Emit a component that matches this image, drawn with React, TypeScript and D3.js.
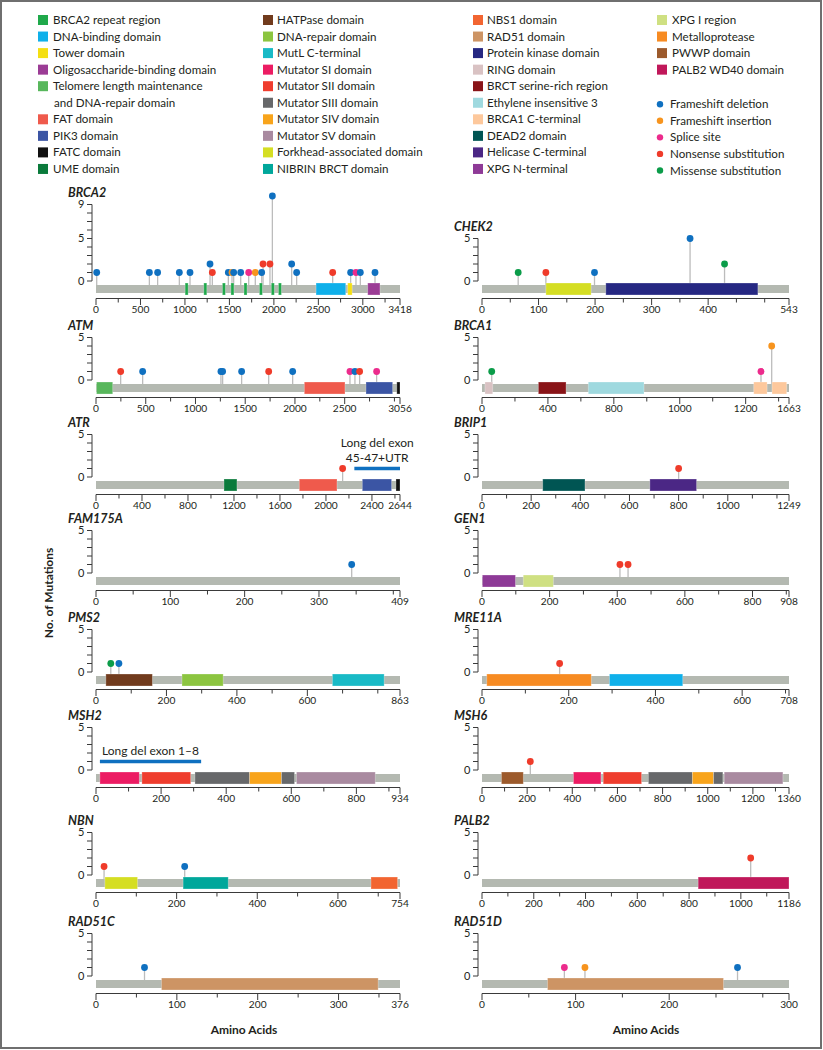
import React from "react";
import * as d3 from "d3";

// ---------------- data ----------------
const leftGenes = ["BRCA2", "ATM", "ATR", "FAM175A", "PMS2", "MSH2", "NBN", "RAD51C"];
const rightGenes = ["CHEK2", "BRCA1", "BRIP1", "GEN1", "MRE11A", "MSH6", "PALB2", "RAD51D"];

const proteinLength: Record<string, number> = {
  BRCA2: 3418, ATM: 3056, ATR: 2644, FAM175A: 409, PMS2: 863, MSH2: 934, NBN: 754, RAD51C: 376,
  CHEK2: 543, BRCA1: 1863, BRIP1: 1249, GEN1: 908, MRE11A: 708, MSH6: 1360, PALB2: 1186, RAD51D: 328,
};

const countAxisMax: Record<string, number> = { BRCA2: 9 };
const countAxisLabels: Record<string, number[]> = { BRCA2: [0, 5, 9] };
const defaultCountLabels = [0, 5];

const xMinorStep: Record<string, number> = {
  BRCA2: 250, ATM: 250, ATR: 200, FAM175A: 50, PMS2: 100, MSH2: 100, NBN: 100, RAD51C: 50,
  CHEK2: 50, BRCA1: 200, BRIP1: 100, GEN1: 100, MRE11A: 100, MSH6: 100, PALB2: 100, RAD51D: 50,
};

const xTickLabels: Record<string, [number, string][]> = {
  BRCA2: [[0, "0"], [500, "500"], [1000, "1000"], [1500, "1500"], [2000, "2000"], [2500, "2500"], [3000, "3000"], [3418, "3418"]],
  ATM: [[0, "0"], [500, "500"], [1000, "1000"], [1500, "1500"], [2000, "2000"], [2500, "2500"], [3056, "3056"]],
  ATR: [[0, "0"], [400, "400"], [800, "800"], [1200, "1200"], [1600, "1600"], [2000, "2000"], [2400, "2400"], [2644, "2644"]],
  FAM175A: [[0, "0"], [100, "100"], [200, "200"], [300, "300"], [409, "409"]],
  PMS2: [[0, "0"], [200, "200"], [400, "400"], [600, "600"], [863, "863"]],
  MSH2: [[0, "0"], [200, "200"], [400, "400"], [600, "600"], [800, "800"], [934, "934"]],
  NBN: [[0, "0"], [200, "200"], [400, "400"], [600, "600"], [754, "754"]],
  RAD51C: [[0, "0"], [100, "100"], [200, "200"], [300, "300"], [376, "376"]],
  CHEK2: [[0, "0"], [100, "100"], [200, "200"], [300, "300"], [400, "400"], [543, "543"]],
  BRCA1: [[0, "0"], [400, "400"], [800, "800"], [1200, "1000"], [1600, "1200"], [1863, "1663"]],
  BRIP1: [[0, "0"], [200, "200"], [400, "400"], [600, "600"], [800, "800"], [1000, "1000"], [1249, "1249"]],
  GEN1: [[0, "0"], [200, "200"], [400, "400"], [600, "600"], [800, "800"], [908, "908"]],
  MRE11A: [[0, "0"], [200, "200"], [400, "400"], [600, "600"], [708, "708"]],
  MSH6: [[0, "0"], [200, "200"], [400, "400"], [600, "600"], [800, "800"], [1000, "1000"], [1200, "1200"], [1360, "1360"]],
  PALB2: [[0, "0"], [200, "200"], [400, "400"], [600, "600"], [800, "800"], [1000, "1000"], [1186, "1186"]],
  RAD51D: [[0, "0"], [100, "100"], [200, "200"], [328, "300"]],
};

// [gene, domain, start, end]
const domains: [string, string, number, number][] = [
  ["BRCA2", "BRCA2 repeat region", 1002, 1036],
  ["BRCA2", "BRCA2 repeat region", 1212, 1246],
  ["BRCA2", "BRCA2 repeat region", 1421, 1455],
  ["BRCA2", "BRCA2 repeat region", 1517, 1551],
  ["BRCA2", "BRCA2 repeat region", 1664, 1698],
  ["BRCA2", "BRCA2 repeat region", 1837, 1871],
  ["BRCA2", "BRCA2 repeat region", 1971, 2005],
  ["BRCA2", "BRCA2 repeat region", 2051, 2085],
  ["BRCA2", "DNA-binding domain", 2474, 2808],
  ["BRCA2", "Tower domain", 2830, 2880],
  ["BRCA2", "Oligosaccharide-binding domain", 3055, 3193],
  ["CHEK2", "Forkhead-associated domain", 113, 193],
  ["CHEK2", "Protein kinase domain", 219, 488],
  ["ATM", "Telomere length maintenance and DNA-repair domain", 5, 168],
  ["ATM", "FAT domain", 2094, 2503],
  ["ATM", "PIK3 domain", 2714, 2982],
  ["ATM", "FATC domain", 3024, 3056],
  ["ATR", "UME domain", 1113, 1226],
  ["ATR", "FAT domain", 1768, 2096],
  ["ATR", "PIK3 domain", 2316, 2571],
  ["ATR", "FATC domain", 2609, 2644],
  ["BRCA1", "RING domain", 18, 65],
  ["BRCA1", "BRCT serine-rich region", 342, 510],
  ["BRCA1", "Ethylene insensitive 3", 645, 983],
  ["BRCA1", "BRCA1 C-terminal", 1649, 1730],
  ["BRCA1", "BRCA1 C-terminal", 1760, 1849],
  ["BRIP1", "DEAD2 domain", 247, 419],
  ["BRIP1", "Helicase C-terminal", 683, 873],
  ["PMS2", "HATPase domain", 28, 160],
  ["PMS2", "DNA-repair domain", 244, 361],
  ["PMS2", "MutL C-terminal", 671, 818],
  ["GEN1", "XPG N-terminal", 1, 99],
  ["GEN1", "XPG I region", 122, 211],
  ["MRE11A", "Metalloprotease", 11, 252],
  ["MRE11A", "DNA-binding domain", 294, 463],
  ["MSH2", "Mutator SI domain", 12, 133],
  ["MSH2", "Mutator SII domain", 141, 291],
  ["MSH2", "Mutator SIII domain", 304, 472],
  ["MSH2", "Mutator SIV domain", 472, 570],
  ["MSH2", "Mutator SIII domain", 570, 610],
  ["MSH2", "Mutator SV domain", 616, 858],
  ["MSH6", "PWWP domain", 86, 183],
  ["MSH6", "Mutator SI domain", 405, 527],
  ["MSH6", "Mutator SII domain", 537, 707],
  ["MSH6", "Mutator SIII domain", 737, 932],
  ["MSH6", "Mutator SIV domain", 932, 1026],
  ["MSH6", "Mutator SIII domain", 1026, 1067],
  ["MSH6", "Mutator SV domain", 1073, 1333],
  ["NBN", "Forkhead-associated domain", 22, 103],
  ["NBN", "NIBRIN BRCT domain", 216, 328],
  ["NBN", "NBS1 domain", 682, 748],
  ["PALB2", "PALB2 WD40 domain", 835, 1186],
  ["RAD51C", "RAD51 domain", 81, 349],
  ["RAD51D", "RAD51 domain", 70, 258],
];

// [gene, mutation type, amino-acid position, count]
const mutations: [string, string, number, number][] = [
  ["BRCA2", "fsdel", 8, 1],
  ["BRCA2", "fsdel", 600, 1],
  ["BRCA2", "fsdel", 693, 1],
  ["BRCA2", "fsdel", 937, 1],
  ["BRCA2", "fsdel", 1057, 1],
  ["BRCA2", "fsdel", 1282, 2],
  ["BRCA2", "nonsense", 1308, 1],
  ["BRCA2", "fsdel", 1488, 1],
  ["BRCA2", "fsins", 1529, 1],
  ["BRCA2", "fsdel", 1548, 1],
  ["BRCA2", "fsdel", 1627, 1],
  ["BRCA2", "splice", 1717, 1],
  ["BRCA2", "fsins", 1791, 1],
  ["BRCA2", "fsdel", 1863, 1],
  ["BRCA2", "nonsense", 1878, 2],
  ["BRCA2", "nonsense", 1956, 2],
  ["BRCA2", "fsdel", 1983, 10],
  ["BRCA2", "fsdel", 2200, 2],
  ["BRCA2", "fsdel", 2256, 1],
  ["BRCA2", "nonsense", 2661, 1],
  ["BRCA2", "fsdel", 2863, 1],
  ["BRCA2", "splice", 2923, 1],
  ["BRCA2", "fsdel", 2972, 1],
  ["BRCA2", "fsdel", 3137, 1],
  ["CHEK2", "missense", 64, 1],
  ["CHEK2", "nonsense", 113, 1],
  ["CHEK2", "fsdel", 199, 1],
  ["CHEK2", "fsdel", 368, 5],
  ["CHEK2", "missense", 429, 2],
  ["ATM", "nonsense", 248, 1],
  ["ATM", "fsdel", 469, 1],
  ["ATM", "fsdel", 1256, 1],
  ["ATM", "fsdel", 1273, 1],
  ["ATM", "fsdel", 1464, 1],
  ["ATM", "nonsense", 1736, 1],
  ["ATM", "fsdel", 1977, 1],
  ["ATM", "splice", 2553, 1],
  ["ATM", "fsdel", 2603, 1],
  ["ATM", "nonsense", 2650, 1],
  ["ATM", "splice", 2821, 1],
  ["ATR", "nonsense", 2145, 1],
  ["BRCA1", "missense", 59, 1],
  ["BRCA1", "splice", 1693, 1],
  ["BRCA1", "fsins", 1758, 4],
  ["BRIP1", "nonsense", 800, 1],
  ["FAM175A", "fsdel", 344, 1],
  ["PMS2", "missense", 42, 1],
  ["PMS2", "fsdel", 65, 1],
  ["GEN1", "nonsense", 408, 1],
  ["GEN1", "nonsense", 432, 1],
  ["MRE11A", "nonsense", 179, 1],
  ["MSH6", "nonsense", 214, 1],
  ["NBN", "nonsense", 20, 1],
  ["NBN", "fsdel", 220, 1],
  ["PALB2", "nonsense", 1038, 2],
  ["RAD51C", "fsdel", 60, 1],
  ["RAD51D", "splice", 88, 1],
  ["RAD51D", "fsins", 110, 1],
  ["RAD51D", "fsdel", 273, 1],
];

// [gene, start, end, level, label lines]
const longDeletions: [string, number, number, number, string[]][] = [
  ["ATR", 2247, 2644, 1, ["Long del exon", "45-47+UTR"]],
  ["MSH2", 12, 323, 1, ["Long del exon 1\u20138"]],
];

const legendCol1 = ["BRCA2 repeat region", "DNA-binding domain", "Tower domain", "Oligosaccharide-binding domain",
  "Telomere length maintenance and DNA-repair domain", "FAT domain", "PIK3 domain", "FATC domain", "UME domain"];
const legendCol2 = ["HATPase domain", "DNA-repair domain", "MutL C-terminal", "Mutator SI domain", "Mutator SII domain",
  "Mutator SIII domain", "Mutator SIV domain", "Mutator SV domain", "Forkhead-associated domain", "NIBRIN BRCT domain"];
const legendCol3 = ["NBS1 domain", "RAD51 domain", "Protein kinase domain", "RING domain", "BRCT serine-rich region",
  "Ethylene insensitive 3", "BRCA1 C-terminal", "DEAD2 domain", "Helicase C-terminal", "XPG N-terminal"];
const legendCol4 = ["XPG I region", "Metalloprotease", "PWWP domain", "PALB2 WD40 domain"];

const mutationTypes = ["fsdel", "fsins", "splice", "nonsense", "missense"];
const mutationLabels = ["Frameshift deletion", "Frameshift insertion", "Splice site", "Nonsense substitution", "Missense substitution"];

// ---------------- styles ----------------
const domainColor: Record<string, string> = {
  "BRCA2 repeat region": "#1fa94b",
  "DNA-binding domain": "#0fb0ea",
  "Tower domain": "#f4df12",
  "Oligosaccharide-binding domain": "#9b3c95",
  "Telomere length maintenance and DNA-repair domain": "#58b75c",
  "FAT domain": "#ef5a4c",
  "PIK3 domain": "#3b55a4",
  "FATC domain": "#111111",
  "UME domain": "#0a7a3b",
  "HATPase domain": "#713b1d",
  "DNA-repair domain": "#8cc540",
  "MutL C-terminal": "#19bac6",
  "Mutator SI domain": "#ec1c63",
  "Mutator SII domain": "#ef3d2e",
  "Mutator SIII domain": "#67686a",
  "Mutator SIV domain": "#f8a41b",
  "Mutator SV domain": "#a98aa0",
  "Forkhead-associated domain": "#d5de23",
  "NIBRIN BRCT domain": "#00a79b",
  "NBS1 domain": "#f26531",
  "RAD51 domain": "#cd9464",
  "Protein kinase domain": "#262882",
  "RING domain": "#d9c2c3",
  "BRCT serine-rich region": "#891418",
  "Ethylene insensitive 3": "#9fd9df",
  "BRCA1 C-terminal": "#fdc89c",
  "DEAD2 domain": "#005553",
  "Helicase C-terminal": "#4b2785",
  "XPG N-terminal": "#8e3a97",
  "XPG I region": "#cfe082",
  "Metalloprotease": "#f78b22",
  "PWWP domain": "#9c5a2c",
  "PALB2 WD40 domain": "#c0185a",
};
const mutationColor: Record<string, string> = {
  fsdel: "#0f70c0",
  fsins: "#f7941e",
  splice: "#ec2b8c",
  nonsense: "#ef3b2a",
  missense: "#0b9c49",
};

const FONT = "Lato, 'Open Sans', sans-serif";
const TEXT = "#231f20";
const AXIS = "#3a3a3a";
const BACKBONE = "#b4b9b1";
const STEM = "#bcbcbc";

const ROW_Y0 = [281, 380, 477, 573, 672, 770, 875, 976];
const COL_X: [number, number][] = [[96, 400], [482, 789]];
const Y_AXIS_X = [92, 478];
const TITLE_X = [68, 454];
const UNIT = 8.5;

function Panel({ gene, col, row }: { gene: string; col: number; row: number }) {
  const len = proteinLength[gene];
  const x = d3.scaleLinear().domain([0, len]).range(COL_X[col]);
  const yMax = countAxisMax[gene] ?? 5;
  const y0 = ROW_Y0[row];
  const y = d3.scaleLinear().domain([0, yMax]).range([y0, y0 - yMax * UNIT]);
  const ax = Y_AXIS_X[col];
  const minor = d3.range(0, len, xMinorStep[gene]).concat([len]);
  const labels = xTickLabels[gene];
  const labelVals = new Set(labels.map((d) => d[0]));
  const axisY = y0 + 17.5;
  const bbTop = y0 + 4;
  const doms = domains.filter((d) => d[0] === gene);
  const muts = mutations.filter((d) => d[0] === gene);
  const dels = longDeletions.filter((d) => d[0] === gene);
  return (
    <g>
      <text x={TITLE_X[col]} y={y(yMax) - 8} fontStyle="italic" fontWeight="bold" fontSize={12.5} fill={TEXT}>
        {gene}
      </text>
      <line x1={ax} x2={ax} y1={y(0)} y2={y(yMax)} stroke={AXIS} strokeWidth={1} />
      {d3.range(0, yMax + 1).map((v) => (
        <line key={"yt" + v} x1={ax - 5} x2={ax} y1={y(v)} y2={y(v)} stroke={AXIS} strokeWidth={1} />
      ))}
      {(countAxisLabels[gene] ?? defaultCountLabels).map((v) => (
        <text key={"yl" + v} x={ax - 7.5} y={y(v)} dy="0.36em" textAnchor="end" fontSize={11} fill={TEXT}>
          {v}
        </text>
      ))}
      {dels.map(([, s, e, lvl, lines], i) => {
        const ly = y(lvl);
        const cx = (x(s) + x(Math.min(e, len))) / 2;
        return (
          <g key={"del" + i}>
            <line x1={x(s)} x2={x(Math.min(e, len))} y1={ly} y2={ly} stroke={mutationColor.fsdel} strokeWidth={3.5} />
            {lines.map((t, j) => (
              <text key={j} x={cx} y={ly - 7 - (lines.length - 1 - j) * 15} textAnchor="middle" fontSize={12} fill={TEXT}>
                {t}
              </text>
            ))}
          </g>
        );
      })}
      <rect x={x(0)} y={bbTop} width={x(len) - x(0)} height={8} fill={BACKBONE} />
      {muts.map(([, , pos, cnt], i) => (
        <line key={"st" + i} x1={x(pos)} x2={x(pos)} y1={bbTop} y2={y(cnt)} stroke={STEM} strokeWidth={1.3} />
      ))}
      {doms.map(([, name, s, e], i) => (
        <rect key={"d" + i} x={x(s)} y={y0 + 2} width={x(e) - x(s)} height={12} fill={domainColor[name]}
          stroke="#ffffff" strokeOpacity={0.35} strokeWidth={0.8} />
      ))}
      {muts.map(([, type, pos, cnt], i) => (
        <circle key={"m" + i} cx={x(pos)} cy={y(cnt)} r={3.4} fill={mutationColor[type]} />
      ))}
      <line x1={x(0)} x2={x(len)} y1={axisY} y2={axisY} stroke={AXIS} strokeWidth={1} />
      {minor.map((v, i) => (
        <line key={"xt" + i} x1={x(v)} x2={x(v)} y1={axisY} y2={axisY + (labelVals.has(v) ? 6.5 : 4)} stroke={AXIS} strokeWidth={1} />
      ))}
      {labels.map(([v, t]) => (
        <text key={"xl" + v} x={x(v)} y={axisY + 14.5} textAnchor="middle" fontSize={10.2} fill={TEXT}>
          {t}
        </text>
      ))}
    </g>
  );
}

function Legend() {
  const rowY = (i: number) => 20 + i * 16.55;
  const cols: { items: string[]; sx: number; tx: number }[] = [
    { items: legendCol1, sx: 38, tx: 53 },
    { items: legendCol2, sx: 263, tx: 277 },
    { items: legendCol3, sx: 473, tx: 487 },
    { items: legendCol4, sx: 657, tx: 672 },
  ];
  const out: JSX.Element[] = [];
  cols.forEach((c, ci) => {
    let r = 0;
    c.items.forEach((name, ii) => {
      const lines = name === "Telomere length maintenance and DNA-repair domain"
        ? ["Telomere length maintenance", "and DNA-repair domain"] : [name];
      const cy = rowY(r);
      out.push(<rect key={`ls${ci}-${ii}`} x={c.sx} y={cy - 5} width={10} height={10} fill={domainColor[name]} />);
      lines.forEach((t, j) => {
        out.push(
          <text key={`lt${ci}-${ii}-${j}`} x={c.tx + (j > 0 ? 1 : 0)} y={rowY(r + j)} dy="0.35em" fontSize={11.6} fill={TEXT}>
            {t}
          </text>
        );
      });
      r += lines.length;
    });
  });
  mutationTypes.forEach((m, i) => {
    const cy = rowY(5 + i) + 1.5;
    out.push(<circle key={"lm" + m} cx={660} cy={cy} r={3.2} fill={mutationColor[m]} />);
    out.push(
      <text key={"lmt" + m} x={670} y={cy} dy="0.35em" fontSize={11.6} fill={TEXT}>
        {mutationLabels[i]}
      </text>
    );
  });
  return <g>{out}</g>;
}

export default function App() {
  return (
    <svg width={823} height={1050} style={{ position: "absolute", left: 0, top: 0, fontFamily: FONT, background: "#fff" }}>
      <rect x={1} y={1} width={820} height={1047} fill="#ffffff" stroke="#6f6f6f" strokeWidth={2} />
      <Legend />
      {leftGenes.map((g, i) => (
        <Panel key={g} gene={g} col={0} row={i} />
      ))}
      {rightGenes.map((g, i) => (
        <Panel key={g} gene={g} col={1} row={i} />
      ))}
      <text transform="translate(49,593) rotate(-90)" textAnchor="middle" dy="0.35em" fontWeight="bold" fontSize={12} fill={TEXT}>
        No. of Mutations
      </text>
      <text x={244} y={1030} dy="0.35em" textAnchor="middle" fontWeight="bold" fontSize={12} fill={TEXT}>
        Amino Acids
      </text>
      <text x={646} y={1030} dy="0.35em" textAnchor="middle" fontWeight="bold" fontSize={12} fill={TEXT}>
        Amino Acids
      </text>
    </svg>
  );
}
